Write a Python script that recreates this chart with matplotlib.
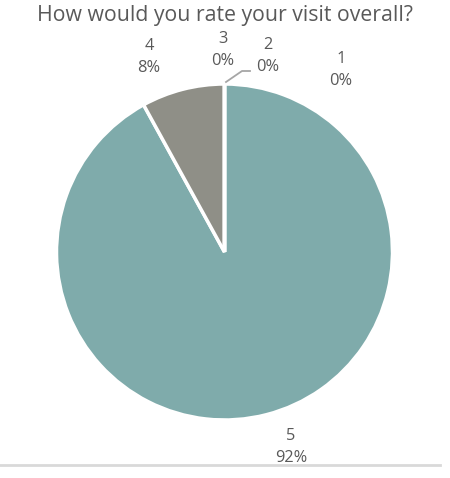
import matplotlib
matplotlib.use("Agg")
import matplotlib.pyplot as plt
from matplotlib.lines import Line2D

title = "How would you rate your visit overall?"
categories = ["5", "4", "3", "2", "1"]
values = [92, 8, 0, 0, 0]
colors = ["#7FABAB", "#8F8F87", "#A5A5A5", "#BFBFBF", "#7FABAB"]

# label anchor positions (pixels, image coords, top-left origin)
label_pos = {"5": (291, 447), "4": (149, 57), "3": (223, 50), "2": (268, 56), "1": (341, 70)}

W, H = 450, 478
fig = plt.figure(figsize=(W / 100, H / 100), dpi=100)
ax = fig.add_axes([0, 0, 1, 1])

font = "Open Sans"
ax.pie(values, colors=colors, startangle=90, counterclock=False,
       center=(224.5, H - 252), radius=168,
       wedgeprops=dict(edgecolor="white", linewidth=2.5))
ax.set_xlim(0, W)
ax.set_ylim(0, H)
ax.set_aspect("equal")
ax.axis("off")

total = sum(values)
for c, v in zip(categories, values):
    x, y = label_pos[c]
    ax.text(x, H - y, f"{c}\n{round(100 * v / total)}%", ha="center", va="center",
            fontsize=11.8, color="#595959", family=font, linespacing=1.5)

# leader line for category 2
ax.add_line(Line2D([226, 242, 250], [H - 82, H - 71, H - 71], color="#A6A6A6", lw=1.3))

fig.text(0.5, 1 - 15 / H, title, ha="center", va="center", fontsize=15.3,
         color="#595959", family=font)

# bottom border line
fig.add_artist(Line2D([0, 440 / W], [1 - 465 / H, 1 - 465 / H], color="#D9D9D9", lw=2))

fig.savefig("out.png", dpi=100)
